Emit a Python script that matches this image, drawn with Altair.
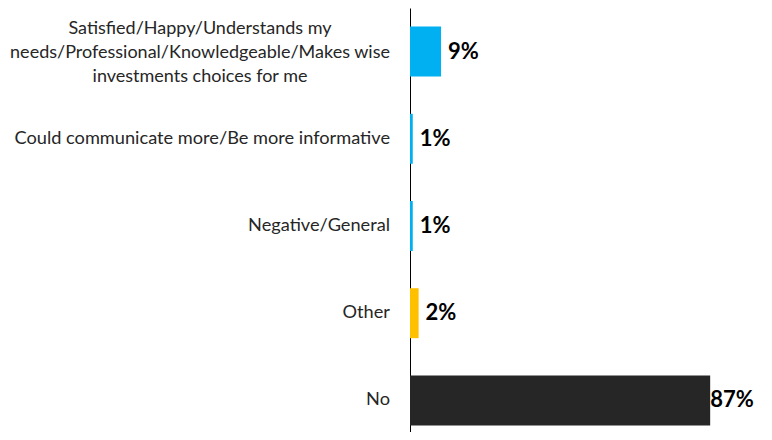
import altair as alt
import pandas as pd

categories = [
    "Satisfied/Happy/Understands my\nneeds/Professional/Knowledgeable/Makes wise\ninvestments choices for me",
    "Could communicate more/Be more informative",
    "Negative/General",
    "Other",
    "No",
]
values = [9, 0.8, 0.8, 2.5, 87]
labels = ["9%", "1%", "1%", "2%", "87%"]
colors = ["#00B0F0", "#00B0F0", "#00B0F0", "#FFC000", "#262626"]
multiline = [True, False, False, False, False]

df = pd.DataFrame({"cat": categories, "value": values, "label": labels, "multi": multiline})

xscale = alt.Scale(domain=[0, 102.6])
y = alt.Y(
    "cat:N",
    sort=categories,
    scale=alt.Scale(paddingInner=0.427, paddingOuter=0.2135, range=[0, 436]),
    axis=alt.Axis(labels=False, ticks=False, title=None, domainColor="black",
                  domainWidth=1, grid=False),
)

base = alt.Chart(df)

bars = base.mark_bar().encode(
    x=alt.X("value:Q", scale=xscale, axis=None),
    y=y,
    color=alt.Color("cat:N", scale=alt.Scale(domain=categories, range=colors), legend=None),
)

vals = base.transform_calculate(lx="min(datum.value + 2, 87)").mark_text(
    align="left", baseline="middle", font="Lato", fontWeight="bold", fontSize=22, color="black"
).encode(
    x=alt.X("lx:Q", scale=xscale, axis=None),
    y=y,
    text="label:N",
)

cat_single = base.transform_filter("!datum.multi").mark_text(
    align="right", baseline="middle", font="Lato", fontSize=18.2, color="#262626", dx=-20
).encode(x=alt.value(0), y=y, text="cat:N")

cat_multi = base.transform_filter("datum.multi").mark_text(
    align="center", baseline="middle", font="Lato", fontSize=18, color="#262626",
    lineBreak="\n", lineHeight=24, dx=-210, dy=-23
).encode(x=alt.value(0), y=y, text="cat:N")

chart = alt.layer(bars, vals, cat_single, cat_multi).properties(
    width=354,
    height=424,
    autosize=alt.AutoSizeParams(type="none"),
    padding={"left": 402, "top": 0, "right": 0, "bottom": 0},
).configure_view(stroke=None)

chart.save("out.html", embed_options={"renderer": "svg", "actions": False})
